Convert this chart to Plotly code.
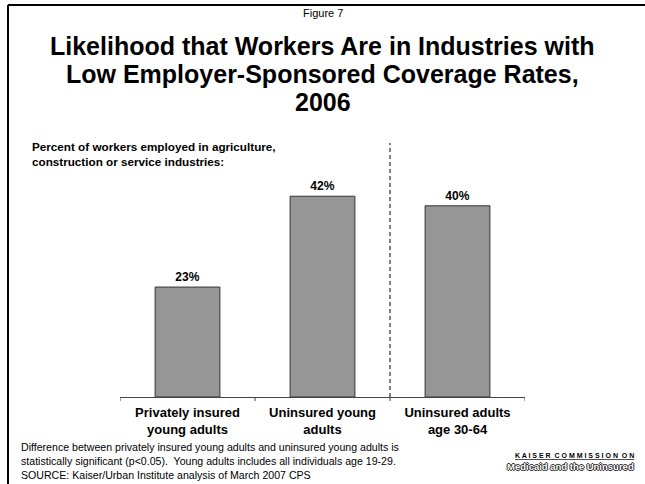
import plotly.graph_objects as go

# Chart data
categories = ["Privately insured<br>young adults", "Uninsured young<br>adults", "Uninsured adults<br>age 30-64"]
values = [23, 42, 40]
value_labels = ["23%", "42%", "40%"]
title_lines = [
    "Likelihood that Workers Are in Industries with",
    "Low Employer-Sponsored Coverage Rates,",
    "2006",
]

W, H = 645, 484
FONT = "Arial, Liberation Sans, sans-serif"


def px(x):
    return x / W


def py(y):
    return 1 - y / H


fig = go.Figure()
fig.add_trace(go.Bar(
    x=list(range(len(categories))),
    y=values,
    width=0.48,
    marker=dict(color="#969696", line=dict(color="#333333", width=1)),
    text=value_labels,
    textposition="outside",
    textfont=dict(family=FONT, size=12, color="black", weight="bold"),
    cliponaxis=False,
    hoverinfo="skip",
))

annotations = [dict(text="Figure 7", x=0.5, y=py(13), font=dict(size=11))]
for i, line in enumerate(title_lines):
    annotations.append(dict(text=f"<b>{line}</b>", x=0.5, y=py(46 + 28 * i), font=dict(size=25)))
annotations += [
    dict(text="<b>Percent of workers employed in agriculture,<br>construction or service industries:</b>",
         x=px(30), y=py(154), xanchor="left", align="left", font=dict(size=11.7)),
    dict(text="Difference between privately insured young adults and uninsured young adults is<br>"
              "statistically significant (p<0.05).  Young adults includes all individuals age 19-29.<br>"
              "SOURCE: Kaiser/Urban Institute analysis of March 2007 CPS",
         x=px(19), y=py(461), xanchor="left", align="left", font=dict(size=10.6)),
    dict(text="<b>K A I S E R  C O M M I S S I O N  O N</b>",
         x=px(636), xanchor="right", y=py(455), font=dict(size=7, lineposition="under")),
    dict(text="<b>Medicaid and the Uninsured</b>",
         x=px(636), xanchor="right", y=py(466),
         font=dict(size=9.5, color="white",
                   shadow="1px 0 0 #222, -1px 0 0 #222, 0 1px 0 #222, 0 -1px 0 #222")),
]
for a in annotations:
    a.setdefault("xanchor", "center")
    a.update(xref="paper", yref="paper", yanchor="middle", showarrow=False)
    f = dict(a["font"])
    f.setdefault("color", "black")
    f["family"] = FONT
    a["font"] = f

shapes = [
    # page frame
    dict(type="line", xref="paper", yref="paper", x0=px(8), x1=1, y0=py(5), y1=py(5),
         line=dict(color="black", width=2)),
    dict(type="line", xref="paper", yref="paper", x0=px(8), x1=px(8), y0=py(5), y1=0,
         line=dict(color="black", width=2)),
    # divider between young adults and older adults
    dict(type="line", xref="x", yref="paper", x0=1.5, x1=1.5, y0=py(397), y1=py(143),
         line=dict(color="black", width=1, dash="4px,3px")),
]
# boundary ticks below the axis
for b in [-0.5, 0.5, 1.5, 2.5]:
    shapes.append(dict(type="line", xref="x", yref="paper", x0=b, x1=b,
                       y0=py(397), y1=py(401), line=dict(color="#444", width=1)))

fig.update_layout(
    width=W, height=H,
    margin=dict(l=0, r=0, t=0, b=0),
    paper_bgcolor="white", plot_bgcolor="white",
    showlegend=False,
    font=dict(family=FONT, color="black"),
    annotations=annotations,
    shapes=shapes,
    xaxis=dict(
        domain=[px(120), px(525)],
        range=[-0.5, 2.5],
        tickmode="array",
        tickvals=list(range(len(categories))),
        ticktext=[f"<b>{c}</b>" for c in categories],
        tickfont=dict(family=FONT, size=13, color="black"),
        ticklabelstandoff=3,
        showline=True, linecolor="#444", linewidth=1,
        showgrid=False, zeroline=False,
    ),
    yaxis=dict(
        domain=[py(397), py(158)],
        range=[0, 50],
        visible=False,
        showgrid=False,
    ),
)

fig.write_html("out.html")
